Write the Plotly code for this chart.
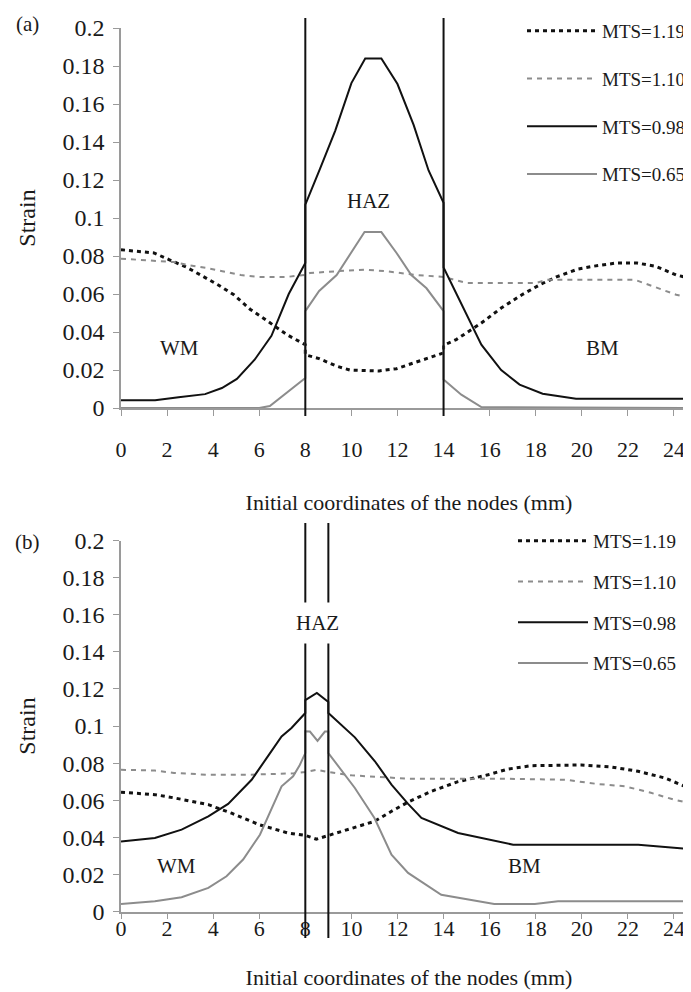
import plotly.graph_objects as go
from plotly.subplots import make_subplots

# ---------------- data ----------------
# panel (a)
a119_x = [0, 1.43, 2.1, 2.86, 3.6, 4.24, 4.9, 5.6, 6.33, 7.2, 8, 8, 8.6, 9.36, 9.93, 11.2, 11.96, 12.7, 13.35, 14, 14,
          14.55, 15.64, 16.5, 17.4, 18.2, 18.9, 19.8, 20.5, 21.5, 22.4, 23.2, 24.1, 25]
a119_y = [0.0833, 0.0816, 0.078, 0.074, 0.069, 0.0646, 0.0596, 0.052, 0.046, 0.0386, 0.0333, 0.028, 0.026, 0.022, 0.020,
          0.0195, 0.0207, 0.0237, 0.026, 0.029, 0.033, 0.036, 0.0447, 0.0526, 0.0596, 0.065, 0.069, 0.073, 0.0746,
          0.0763, 0.0763, 0.0746, 0.070, 0.0674]
a110_x = [0, 1.43, 2.3, 3.0, 3.7, 4.4, 5.2, 6.0, 7.2, 8, 8.2, 9.36, 10.57, 11.5, 12.8, 14, 15, 16.5, 18, 18.5, 20,
          22.3, 23.1, 24.1, 25]
a110_y = [0.0786, 0.0775, 0.0768, 0.075, 0.0737, 0.072, 0.070, 0.069, 0.069, 0.070, 0.071, 0.072, 0.0728, 0.072,
          0.070, 0.069, 0.0658, 0.0658, 0.0658, 0.0675, 0.0675, 0.0675, 0.064, 0.0596, 0.057]
a098_x = [0, 1.48, 2.5, 3.65, 4.38, 5.03, 5.8, 6.53, 6.84, 7.28, 8, 8, 8.64, 9.3, 10.0, 10.6, 11.3, 12.0, 12.7, 13.35,
          14, 14, 15.64, 16.5, 17.3, 18.3, 19.75, 25]
a098_y = [0.0041, 0.0041, 0.0057, 0.0073, 0.0105, 0.0153, 0.0254, 0.038, 0.047, 0.060, 0.0763, 0.107, 0.126, 0.146,
          0.171, 0.184, 0.184, 0.1705, 0.149, 0.125, 0.108, 0.074, 0.0333, 0.020, 0.0123, 0.0075, 0.0049, 0.0049]
a065_x = [0, 6.0, 6.46, 8, 8, 8.6, 9.36, 10.57, 11.3, 11.96, 12.6, 13.26, 14, 14, 14.77, 15.64, 25]
a065_y = [0, 0, 0.001, 0.0158, 0.051, 0.0616, 0.070, 0.0926, 0.0926, 0.0816, 0.070, 0.063, 0.051, 0.015, 0.007,
          0.0005, 0]

# panel (b)
b119_x = [0, 1.47, 2.33, 3.79, 4.8, 6.0, 7.25, 8, 8.48, 9, 10.15, 11, 11.74, 12.46, 13.47, 14.63, 15.93, 16.8, 17.8,
          19.98, 21.28, 22.44, 23.6, 24.47, 25]
b119_y = [0.0643, 0.063, 0.0612, 0.0576, 0.053, 0.0468, 0.0423, 0.041, 0.039, 0.041, 0.045, 0.0486, 0.054, 0.059,
          0.0648, 0.070, 0.0737, 0.0768, 0.0786, 0.079, 0.0779, 0.0756, 0.072, 0.0675, 0.063]
b110_x = [0, 1.47, 2.3, 3.79, 5.5, 7.5, 8, 8.5, 9, 10, 12.46, 16.4, 19.3, 20.7, 21.87, 23.0, 24.0, 25]
b110_y = [0.0764, 0.076, 0.0747, 0.0737, 0.0737, 0.0745, 0.0752, 0.0764, 0.0752, 0.0734, 0.0716, 0.0716, 0.071,
          0.0687, 0.0675, 0.064, 0.0603, 0.0576]
b098_x = [0, 1.47, 2.63, 3.79, 4.65, 5.67, 6.32, 6.97, 7.4, 8, 8, 8.5, 9, 9, 10.15, 11.02, 11.74, 12.46, 13.04, 14.63,
          17.02, 22.45, 25]
b098_y = [0.0378, 0.0396, 0.0441, 0.0513, 0.058, 0.071, 0.0827, 0.0944, 0.0989, 0.107, 0.114, 0.1178, 0.113, 0.107,
          0.0939, 0.081, 0.0684, 0.058, 0.0504, 0.0423, 0.036, 0.036, 0.0333]
b065_x = [0, 1.47, 2.63, 3.79, 4.58, 5.3, 6.03, 6.53, 6.97, 7.47, 7.76, 8, 8, 8.2, 8.53, 8.85, 9, 9, 10.15, 11, 11.74,
          12.46, 13.9, 16.2, 17.96, 18.97, 25]
b065_y = [0.004, 0.0055, 0.0077, 0.0127, 0.019, 0.028, 0.0414, 0.0558, 0.0675, 0.0729, 0.079, 0.0854, 0.0971, 0.097,
          0.092, 0.097, 0.097, 0.0854, 0.0666, 0.0504, 0.0306, 0.0208, 0.009, 0.004, 0.004, 0.0055, 0.0055]

series_names = ["MTS=1.19", "MTS=1.10", "MTS=0.98", "MTS=0.65"]
haz_a = [8, 14]
haz_b = [8, 9]
y_ticks = [0, 0.02, 0.04, 0.06, 0.08, 0.1, 0.12, 0.14, 0.16, 0.18, 0.2]
x_ticks = [0, 2, 4, 6, 8, 10, 12, 14, 16, 18, 20, 22, 24]

# ---------------- styling ----------------
FONT = "Liberation Serif"
BLACK = "#111111"
GRAY = "#8c8c8c"
AXC = "#9a9a9a"
TXT = "#1a1a1a"
styles = [
    dict(color=BLACK, width=3, dash="4px,4px"),
    dict(color=GRAY, width=2, dash="5px,5px"),
    dict(color=BLACK, width=2),
    dict(color=GRAY, width=2),
]

W, H = 691, 992
L, R = 113, 2
PW = W - L - R


def py(page_y):  # pixel row -> paper fraction
    return 1 - page_y / H


def px(page_x):  # pixel column -> paper fraction
    return (page_x - L) / PW


fig = make_subplots(rows=2, cols=1, vertical_spacing=0.05)

panel_a = [(a119_x, a119_y), (a110_x, a110_y), (a098_x, a098_y), (a065_x, a065_y)]
panel_b = [(b119_x, b119_y), (b110_x, b110_y), (b098_x, b098_y), (b065_x, b065_y)]

for i, (xs, ys) in enumerate(panel_a):
    fig.add_trace(go.Scatter(x=xs, y=ys, mode="lines", name=series_names[i], line=styles[i],
                             legend="legend", legendgroup="a%d" % i), row=1, col=1)
for i, (xs, ys) in enumerate(panel_b):
    fig.add_trace(go.Scatter(x=xs, y=ys, mode="lines", name=series_names[i], line=styles[i],
                             legend="legend2", legendgroup="b%d" % i), row=2, col=1)

# HAZ boundary lines
for xv in haz_a:
    fig.add_shape(type="line", xref="x", yref="paper", x0=xv, x1=xv, y0=py(408), y1=py(10),
                  line=dict(color=BLACK, width=2))
for xv in haz_b:
    fig.add_shape(type="line", xref="x2", yref="paper", x0=xv, x1=xv, y0=py(930), y1=py(515),
                  line=dict(color=BLACK, width=2))

axis_common = dict(showline=True, linecolor=AXC, linewidth=1.5, ticks="outside", tickcolor=AXC, ticklen=6,
                   tickwidth=1.2, showgrid=False, zeroline=False, automargin=False)

fig.update_xaxes(range=[0, 25], tickvals=x_ticks, tickfont=dict(family=FONT, size=22, color=TXT), **axis_common)
fig.update_yaxes(range=[0, 0.2], tickvals=y_ticks, ticklabelstandoff=4,
                 tickfont=dict(family=FONT, size=24, color=TXT), **axis_common)

title_font = dict(family=FONT, size=22, color=TXT)
fig.update_layout(
    xaxis=dict(domain=[0, 1], ticklabelstandoff=15,
               title=dict(text="Initial coordinates of the nodes (mm)", standoff=33, font=title_font)),
    xaxis2=dict(domain=[0, 1], ticklabelstandoff=-10,
                title=dict(text="Initial coordinates of the nodes (mm)", standoff=30, font=title_font)),
    yaxis=dict(domain=[py(400), py(20)],
               title=dict(text="Strain", standoff=20, font=dict(family=FONT, size=24, color=TXT))),
    yaxis2=dict(domain=[py(903.5), py(532.5)],
                title=dict(text="Strain", standoff=20, font=dict(family=FONT, size=24, color=TXT))),
)

ann_font = dict(family=FONT, size=21, color=TXT)
ann_common = dict(showarrow=False, font=ann_font, xanchor="center", yanchor="middle")
fig.add_annotation(x=10.75, y=0.109, xref="x", yref="y", text="HAZ", **ann_common)
fig.add_annotation(x=2.56, y=0.0316, xref="x", yref="y", text="WM", **ann_common)
fig.add_annotation(x=20.9, y=0.0316, xref="x", yref="y", text="BM", **ann_common)
fig.add_annotation(x=8.55, y=0.1555, xref="x2", yref="y2", text="HAZ", bgcolor="white", borderpad=8, **ann_common)
fig.add_annotation(x=2.41, y=0.0243, xref="x2", yref="y2", text="WM", **ann_common)
fig.add_annotation(x=17.5, y=0.0243, xref="x2", yref="y2", text="BM", **ann_common)
fig.add_annotation(x=px(19), y=py(16), xref="paper", yref="paper", text="(a)", **ann_common)
fig.add_annotation(x=px(19), y=py(534), xref="paper", yref="paper", text="(b)", **ann_common)

leg_font = dict(family=FONT, size=19, color=TXT)
fig.update_layout(
    width=W, height=H,
    margin=dict(l=L, r=R, t=0, b=0, autoexpand=False),
    paper_bgcolor="white", plot_bgcolor="white",
    font=dict(family=FONT, size=20, color=TXT),
    legend=dict(x=px(514), y=py(4), xanchor="left", yanchor="top",
                font=leg_font, bgcolor="rgba(0,0,0,0)", itemwidth=70, tracegroupgap=20, traceorder="grouped"),
    legend2=dict(x=px(505), y=py(514), xanchor="left", yanchor="top",
                 font=leg_font, bgcolor="rgba(0,0,0,0)", itemwidth=70, tracegroupgap=13, traceorder="grouped"),
)

fig.write_html("out.html")
